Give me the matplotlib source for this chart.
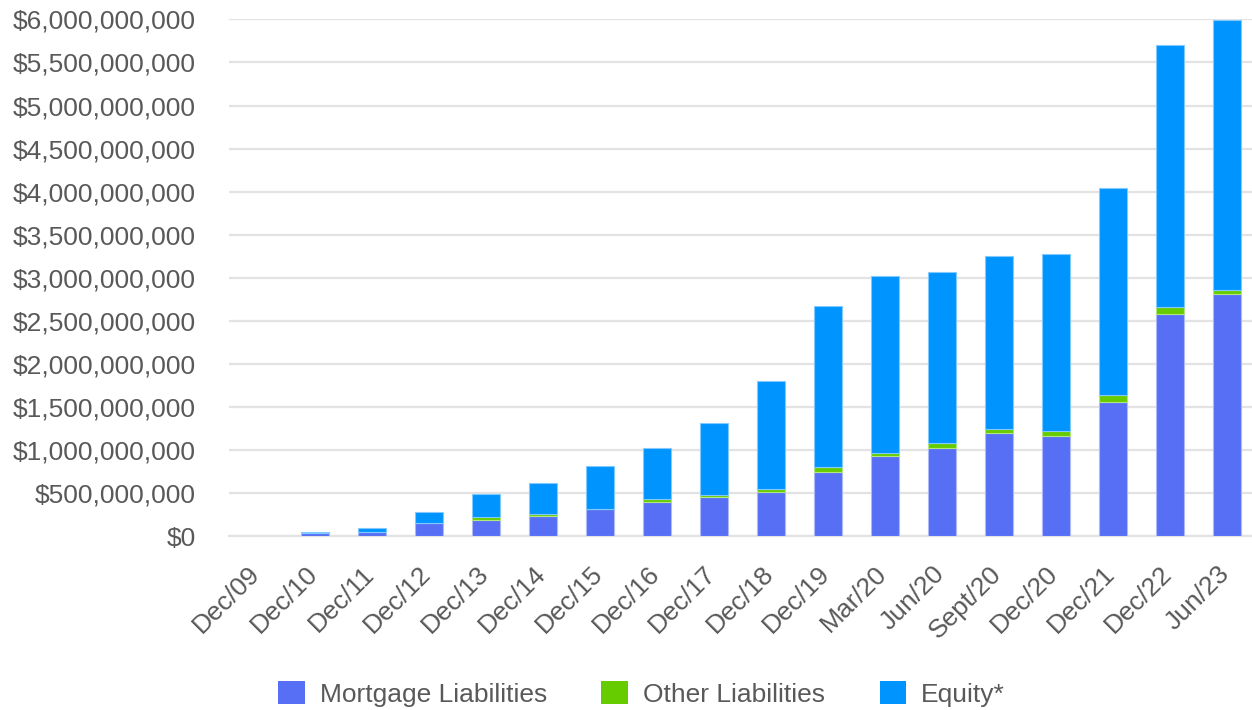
import numpy as np
import matplotlib
matplotlib.use("Agg")
import matplotlib.pyplot as plt
from matplotlib.ticker import FuncFormatter, MultipleLocator
from matplotlib.transforms import ScaledTranslation

plt.rcParams["font.family"] = ["Liberation Sans", "DejaVu Sans"]

# values in $ millions
periods = ["Dec/09", "Dec/10", "Dec/11", "Dec/12", "Dec/13", "Dec/14", "Dec/15",
           "Dec/16", "Dec/17", "Dec/18", "Dec/19", "Mar/20", "Jun/20", "Sept/20",
           "Dec/20", "Dec/21", "Dec/22", "Jun/23"]
mortgage = [0, 37, 56, 153, 195, 241, 316, 404, 455, 520, 752, 937, 1030, 1197,
            1169, 1564, 2587, 2819]
other = [0, 0, 0, 0, 28, 23, 5, 28, 23, 28, 51, 28, 51, 46, 51, 74, 70, 46]
equity = [0, 19, 46, 135, 274, 353, 500, 598, 835, 1252, 1872, 2063, 1989, 2017,
          2059, 2407, 3042, 3130]

series_names = ["Mortgage Liabilities", "Other Liabilities", "Equity*"]
colors = ["#566FF5", "#66CC00", "#0094FF"]
edges = ["#AEB9FA", "#B3E680", "#80CAFF"]
text_color = "#595959"

fig = plt.figure(figsize=(12.52, 7.10), dpi=100)
ax = fig.add_axes([0.1833, 0.2444, 0.8195, 0.7283])

x = np.arange(len(periods))
bottom = np.zeros(len(periods))
handles = []
for vals, name, c, ec in zip([mortgage, other, equity], series_names, colors, edges):
    v = np.array(vals, dtype=float) * 1e6
    # no outline on empty segments
    lw = np.where(v > 0, 0.8, 0.0)
    h = ax.bar(x, v, width=0.5, bottom=bottom, color=c, edgecolor=ec,
               linewidth=lw, label=name, zorder=3)
    handles.append(h)
    bottom += v

ax.set_ylim(0, 6e9)
ax.set_xlim(-0.5, len(periods) - 0.5)
ax.yaxis.set_major_locator(MultipleLocator(5e8))
ax.yaxis.set_major_formatter(FuncFormatter(lambda v, p: f"${v:,.0f}"))
ax.grid(axis="y", color="#E3E3E3", linewidth=1.6, zorder=0)
ax.set_axisbelow(True)

for s in ["top", "right", "left"]:
    ax.spines[s].set_visible(False)
ax.spines["bottom"].set_color("#E3E3E3")
ax.spines["bottom"].set_linewidth(1.6)

ax.tick_params(axis="y", length=0, pad=24, labelsize=19, labelcolor=text_color)
ax.tick_params(axis="x", length=0, pad=8, labelsize=19, labelcolor=text_color)
ax.set_xticks(x)
ax.set_xticklabels(periods, rotation=45, ha="right", va="top",
                   rotation_mode="anchor")
# push the slanted labels a bit further out, like the original
shift = ScaledTranslation(-10 / 100, -14 / 100, fig.dpi_scale_trans)
for lab in ax.get_xticklabels():
    lab.set_transform(lab.get_transform() + shift)

leg = fig.legend(handles=handles, labels=series_names, loc="center",
                 bbox_to_anchor=(0.5124, 0.023), ncol=3, frameon=False,
                 fontsize=19, handlelength=1.0, handleheight=1.0,
                 handletextpad=0.57, columnspacing=2.07)
for t in leg.get_texts():
    t.set_color(text_color)
for p in leg.get_patches():
    p.set_edgecolor("none")
    p.set_linewidth(0)

fig.savefig("out.png", dpi=100)
